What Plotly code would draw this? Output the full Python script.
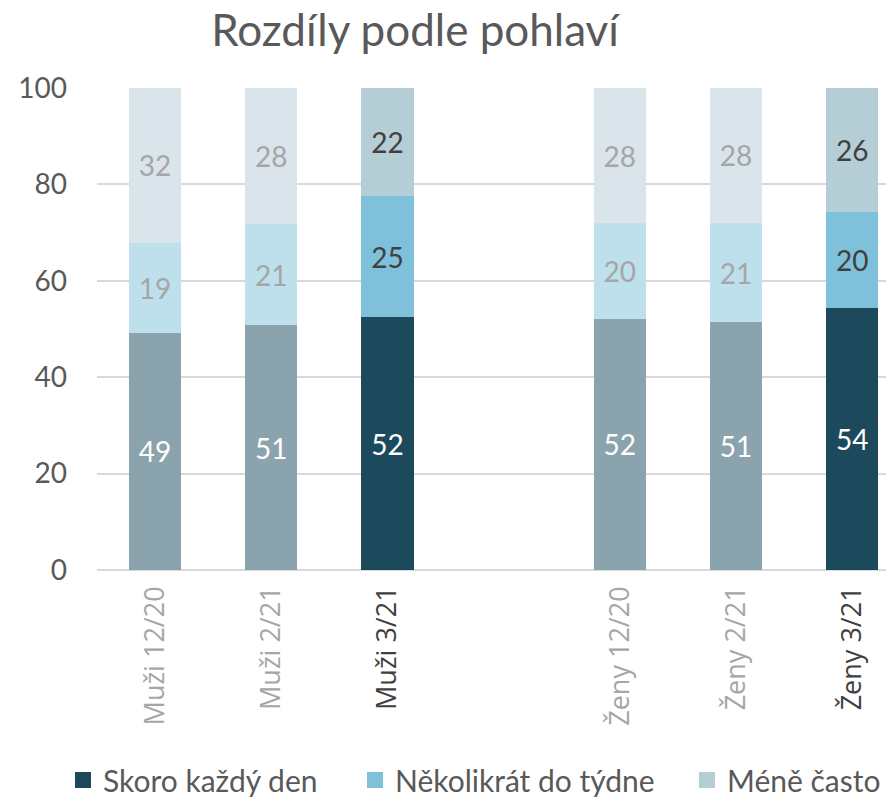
import plotly.graph_objects as go

categories = ["Muži 12/20", "Muži 2/21", "Muži 3/21", " ", "Ženy 12/20", "Ženy 2/21", "Ženy 3/21"]
series_names = ["Skoro každý den", "Několikrát do týdne", "Méně často"]
skoro = [49.2, 50.8, 52.4, None, 52.1, 51.4, 54.4]
nekolikrat = [18.7, 21.0, 25.2, None, 19.8, 20.6, 19.9]
mene = [32.1, 28.2, 22.4, None, 28.1, 28.0, 25.7]
current = [False, False, True, False, False, False, True]
y_ticks = [0, 20, 40, 60, 80, 100]

full_colors = ["#1C4A5C", "#7FC1DB", "#B5CDD4"]
faded_colors = ["#8BA3AD", "#BEE0EC", "#D9E5EA"]
full_text = ["#FFFFFF", "#404040", "#404040"]
faded_text = ["#FFFFFF", "#A6A6A6", "#A6A6A6"]

# The page body has an 8px default margin, so the figure is drawn 8px smaller.
W, H = 886, 789
FONT = "Lato"
fig = go.Figure()
for i, (name, vals) in enumerate(zip(series_names, [skoro, nekolikrat, mene])):
    colors = [full_colors[i] if c else faded_colors[i] for c in current]
    tcolors = [full_text[i] if c else faded_text[i] for c in current]
    fig.add_trace(go.Bar(
        x=categories, y=vals, name=name, showlegend=False,
        marker=dict(color=colors, line=dict(width=0)),
        width=0.45,
        texttemplate="%{y:.0f}", textposition="inside", insidetextanchor="middle",
        textangle=0, constraintext="none",
        textfont=dict(color=tcolors, size=28, family=FONT),
        hoverinfo="skip",
    ))

legend_ids = ["legend", "legend2", "legend3"]
legend_x = [55, 347, 679]
for i, name in enumerate(series_names):
    fig.add_trace(go.Scatter(x=[None], y=[None], name=name, mode="markers",
                             marker=dict(color=full_colors[i], symbol="square", size=18),
                             showlegend=True, legend=legend_ids[i]))

tick_colors = ["#404040" if c else "#A6A6A6" for c in current]
ticktext = [f"<span style='color:{col}'>{cat}</span>" for cat, col in zip(categories, tick_colors)]

def legend_cfg(px):
    return dict(orientation="h", xref="container", yref="container",
                x=px / W, xanchor="left", y=1 - 772 / H, yanchor="middle",
                font=dict(size=30, color="#595959", family=FONT), itemwidth=30,
                itemsizing="trace", bgcolor="rgba(0,0,0,0)")

fig.update_layout(
    barmode="stack",
    width=W, height=H,
    margin=dict(l=89, r=0, t=80, b=227),
    paper_bgcolor="white", plot_bgcolor="white",
    font=dict(family=FONT, color="#595959"),
    title=dict(text="Rozdíly podle pohlaví", x=407 / W, xanchor="center", y=1 - 23 / H, yanchor="middle",
               font=dict(size=44, color="#595959", family=FONT)),
    legend=legend_cfg(legend_x[0]),
    legend2=legend_cfg(legend_x[1]),
    legend3=legend_cfg(legend_x[2]),
    xaxis=dict(type="category", categoryorder="array", categoryarray=categories,
               tickmode="array", tickvals=categories, ticktext=ticktext,
               tickangle=-90, tickfont=dict(size=27, family="Open Sans"), ticklabelstandoff=10,
               range=[-0.5, 6.36], showgrid=False, showline=False, ticks="", automargin=False),
    yaxis=dict(range=[0, 100], tickvals=y_ticks, showgrid=True, gridcolor="#D9D9D9", gridwidth=1.5,
               zeroline=True, zerolinecolor="#D9D9D9", zerolinewidth=1.5, automargin=False,
               tickfont=dict(size=28, color="#595959", family=FONT), ticks="", ticklabelstandoff=29),
)

fig.write_html("out.html")
